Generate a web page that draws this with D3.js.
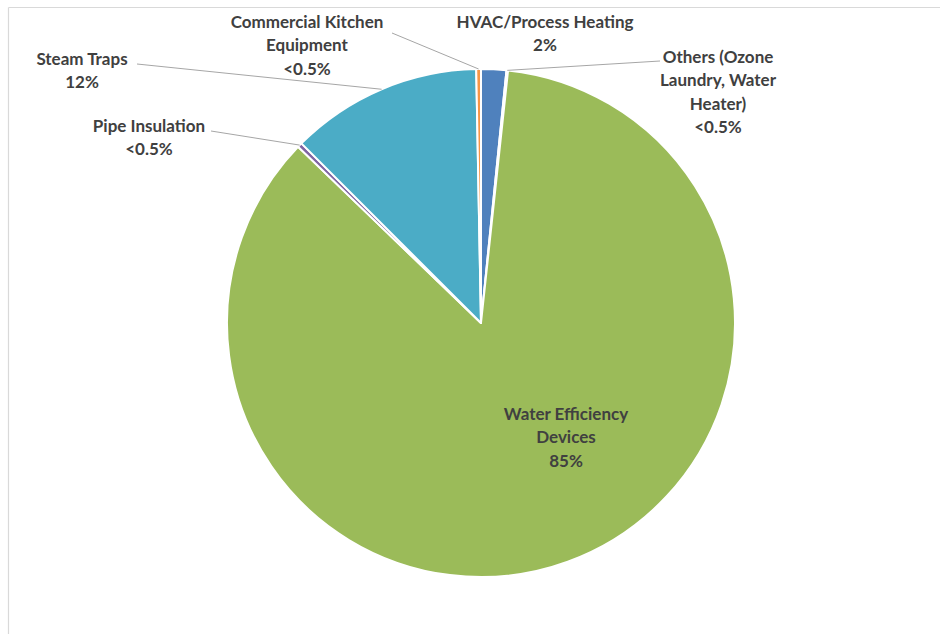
<!DOCTYPE html>
<html>
<head>
<meta charset="utf-8">
<script src="https://cdn.jsdelivr.net/npm/d3@7"></script>
<style>
  body { margin: 0; background: #fff; }
  svg { display: block; }
</style>
</head>
<body>
<svg></svg>
<script>
// slice data, clockwise from 12 o'clock
const categories = ["HVAC/Process Heating", "Others (Ozone Laundry, Water Heater)", "Water Efficiency Devices",
                    "Pipe Insulation", "Steam Traps", "Commercial Kitchen Equipment"];
const shares = [1.6, 0.1, 85.5, 0.3, 12.2, 0.3];
const shareLabels = ["2%", "<0.5%", "85%", "<0.5%", "12%", "<0.5%"];
const colors = ["#4f81bd", "#c0504d", "#9bbb59", "#8064a2", "#4bacc6", "#f79646"];

// label layout: text lines, centre x, first baseline y, leader start (or null)
const labelLines = [
  ["HVAC/Process Heating"],
  ["Others (Ozone", "Laundry, Water", "Heater)"],
  ["Water Efficiency", "Devices"],
  ["Pipe Insulation"],
  ["Steam Traps"],
  ["Commercial Kitchen", "Equipment"]
];
const labelPos = [
  { x: 545, y: 28, lead: null },
  { x: 718, y: 63, lead: [660, 61] },
  { x: 566, y: 420, lead: null },
  { x: 149, y: 132, lead: [211, 131] },
  { x: 82,  y: 65, lead: [137, 64] },
  { x: 307, y: 28, lead: [392, 33] }
];

const width = 940, height = 634;
const cx = 481, cy = 323, radius = 254;
const lineH = 23.3;

const svg = d3.select("svg")
              .attr("width", width)
              .attr("height", height);

// chart area border (top and left only visible)
svg.append("line")
   .attr("x1", 8.5).attr("y1", 7.5).attr("x2", width).attr("y2", 7.5)
   .attr("stroke", "#d9d9d9").attr("stroke-width", 1.2);
svg.append("line")
   .attr("x1", 8.5).attr("y1", 7.5).attr("x2", 8.5).attr("y2", height)
   .attr("stroke", "#d9d9d9").attr("stroke-width", 1.2);

const pie = d3.pie().sort(null).value(d => d);
const arcs = pie(shares);

const arc = d3.arc().innerRadius(0).outerRadius(radius);
const edgeArc = d3.arc().innerRadius(radius).outerRadius(radius);

const g = svg.append("g")
             .attr("transform", "translate(" + cx + "," + cy + ")");

g.selectAll("path")
 .data(arcs)
 .enter()
 .append("path")
 .attr("d", arc)
 .attr("fill", (d, i) => colors[i])
 .attr("stroke", "#fff")
 .attr("stroke-width", 2)
 .attr("stroke-linejoin", "round");

// leader lines from label to the slice edge
arcs.forEach(function(d, i) {
  let p = labelPos[i];
  if (!p.lead) return;
  let end = edgeArc.centroid(d);
  svg.append("line")
     .attr("x1", p.lead[0]).attr("y1", p.lead[1])
     .attr("x2", cx + end[0]).attr("y2", cy + end[1])
     .attr("stroke", "#a6a6a6")
     .attr("stroke-width", 1);
});

// data labels
arcs.forEach(function(d, i) {
  let p = labelPos[i];
  let lines = labelLines[i].concat([shareLabels[i]]);
  let t = svg.append("text")
             .attr("text-anchor", "middle")
             .attr("font-family", "Lato, 'Open Sans', sans-serif")
             .attr("font-weight", "bold")
             .attr("font-size", 17)
             .attr("fill", "#404040");
  lines.forEach(function(s, k) {
    t.append("tspan")
     .attr("x", p.x)
     .attr("y", p.y + k * lineH)
     .text(s);
  });
});
</script>
</body>
</html>
